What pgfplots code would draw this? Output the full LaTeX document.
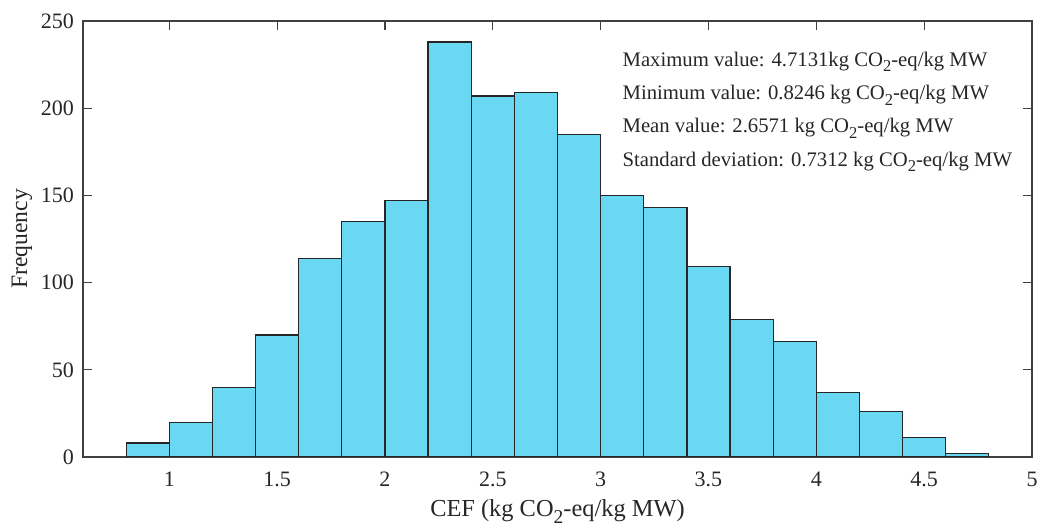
\documentclass[border=0pt]{standalone}
\usepackage{pgfplots}
\pgfplotsset{compat=1.18}
\usepackage{fontspec}
\setmainfont{Liberation Serif}
\definecolor{barc}{RGB}{107,216,243}
\definecolor{axc}{RGB}{64,64,64}
\definecolor{txc}{RGB}{38,38,38}
\newcommand{\subtwo}{\raisebox{-0.55ex}{\scalebox{0.8}{2}}}
\pgfplotstableread{
x y
0.9 8
1.1 20
1.3 40
1.5 70
1.7 114
1.9 135
2.1 147
2.3 238
2.5 207
2.7 209
2.9 185
3.1 150
3.3 143
3.5 109
3.7 79
3.9 66
4.1 37
4.3 26
4.5 11
4.7 2
}\hist
\begin{document}
\begin{tikzpicture}
\begin{axis}[
  scale only axis,
  width=474.5pt, height=218pt,
  xmin=0.6, xmax=5, ymin=0, ymax=250,
  xtick={1,1.5,2,2.5,3,3.5,4,4.5,5}, ytick={0,50,...,250},
  xticklabels={1,1.5,2,2.5,3,3.5,4,4.5,5},
  tick align=inside,
  major tick length=4.5pt,
  axis line style={axc, line width=0.6pt},
  every tick/.style={axc, line width=0.6pt},
  tick label style={font=\fontsize{11}{13}\selectfont, text=txc},
  xticklabel style={yshift=-4pt},
  yticklabel style={xshift=-1pt},
  /pgf/number format/assume math mode=true,
  xlabel={CEF (kg CO\subtwo-eq/kg MW)},
  ylabel={Frequency},
  xlabel style={font=\fontsize{12.2}{14}\selectfont, text=txc, at={(axis description cs:0.5,0)}, anchor=base, yshift=-30pt},
  ylabel style={font=\fontsize{11.8}{14}\selectfont, text=txc, at={(axis description cs:0,0.5)}, anchor=center, yshift=30.5pt},
]
\addplot[ybar, bar width=0.2, bar shift=0pt, fill=barc, draw=black!85, line width=0.6pt] table[x=x,y=y]{\hist};
\coordinate (sw) at (rel axis cs:0,0);
\coordinate (ne) at (rel axis cs:1,1);
\tikzset{ann/.style={anchor=base west, inner sep=0pt, font=\fontsize{10.35}{12}\selectfont, text=txc}}
\node[ann] at (axis cs:3.1,223.8) {Maximum value: 4.7131kg CO\subtwo-eq/kg MW};
\node[ann] at (axis cs:3.1,204.8) {Minimum value: 0.8246 kg CO\subtwo-eq/kg MW};
\node[ann] at (axis cs:3.1,185.9) {Mean value: 2.6571 kg CO\subtwo-eq/kg MW};
\node[ann] at (axis cs:3.1,166.6) {Standard deviation: 0.7312 kg CO\subtwo-eq/kg MW};
\end{axis}
\pgfresetboundingbox
\path ([shift={(-41.5pt,-35pt)}]sw) rectangle ([shift={(4.5pt,10.5pt)}]ne);
\end{tikzpicture}
\end{document}
